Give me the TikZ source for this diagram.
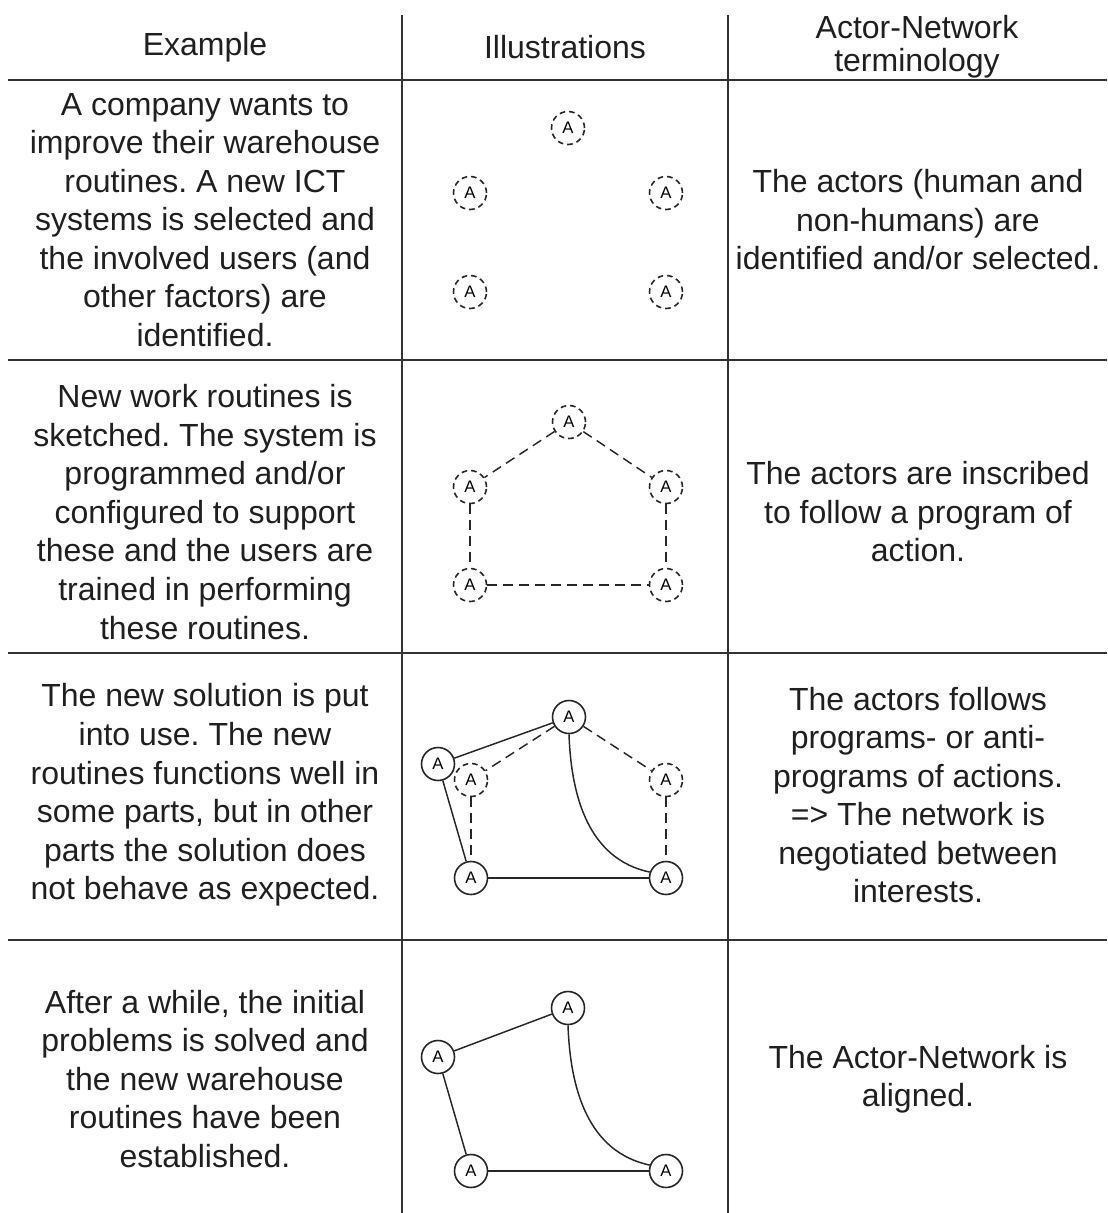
\documentclass[tikz,border=0pt]{standalone}
\usepackage{fontspec}
\setmainfont{Liberation Sans}
\frenchspacing
\begin{document}
\begin{tikzpicture}[x=0.75pt,y=-0.75pt,
  rule/.style={line width=1.5pt,draw=black!80},
  cell/.style={align=center,text=black!88,font=\fontsize{24}{28.9}\selectfont},
  head/.style={align=center,text=black!88,font=\fontsize{24}{24.8}\selectfont},
  actor/.style={circle,draw=black!85,line width=1.2pt,minimum size=24.75pt,inner sep=0pt,
    font=\fontsize{12.5}{14}\selectfont},
  ghost/.style={actor,dash pattern=on 4.2pt off 3pt},
  link/.style={line width=1.1pt,draw=black!85},
  tie/.style={link,dash pattern=on 7.5pt off 4.5pt}]
\useasboundingbox (0,0) rectangle (1107,1213);

% table rules
\draw[rule] (402,15) -- (402,1213);
\draw[rule] (728,15) -- (728,1213);
\foreach \yy in {80,360,653,940} \draw[rule] (8,\yy) -- (1107,\yy);

% header
\node[head] (hEx) at (205,47) {Example};
\node[head] (hIl) at (565,47) {Illustrations};
\node[head] (hAn) at (917,47) {Actor-Network\\terminology};

% row 1
\node[cell] (t1) at (205,220) {A company wants to\\improve their warehouse\\routines. A new ICT\\systems is selected and\\the involved users (and\\other factors) are\\identified.};
\node[cell] (u1) at (918,220) {The actors (human and\\non-humans) are\\identified and/or selected.};
\node[ghost] (a1t) at (568,128) {A};
\node[ghost] (a1l) at (470,193) {A};
\node[ghost] (a1r) at (666,193) {A};
\node[ghost] (a1bl) at (470,292) {A};
\node[ghost] (a1br) at (666,292) {A};

% row 2
\node[cell] (t2) at (205,512) {New work routines is\\sketched. The system is\\programmed and/or\\configured to support\\these and the users are\\trained in performing\\these routines.};
\node[cell] (u2) at (918,512) {The actors are inscribed\\to follow a program of\\action.};
\node[ghost] (a2t) at (569,422) {A};
\node[ghost] (a2l) at (470,487) {A};
\node[ghost] (a2r) at (666,487) {A};
\node[ghost] (a2bl) at (470,585) {A};
\node[ghost] (a2br) at (666,585) {A};
\draw[tie] (a2t) -- (a2l);
\draw[tie] (a2t) -- (a2r);
\draw[tie] (a2l) -- (a2bl);
\draw[tie] (a2r) -- (a2br);
\draw[tie] (a2bl) -- (a2br);

% row 3
\node[cell] (t3) at (205,795) {The new solution is put\\into use. The new\\routines functions well in\\some parts, but in other\\parts the solution does\\not behave as expected.};
\node[cell] (u3) at (918,795) {The actors follows\\programs- or anti-\\programs of actions.\\=> The network is\\negotiated between\\interests.};
\node[actor] (a3t) at (569,717) {A};
\node[actor] (a3l) at (438,764) {A};
\node[ghost] (a3gl) at (471,780) {A};
\node[ghost] (a3gr) at (666,780) {A};
\node[actor] (a3bl) at (471,878) {A};
\node[actor] (a3br) at (666,878) {A};
\draw[tie] (a3t) -- (a3gl);
\draw[tie] (a3t) -- (a3gr);
\draw[tie] (a3gl) -- (a3bl);
\draw[tie] (a3gr) -- (a3br);
\draw[link] (a3l) -- (a3t);
\draw[link] (a3l) -- (a3bl);
\draw[link] (a3bl) -- (a3br);
\draw[link] (a3t.south) to[out=-88,in=168] (a3br.160);

% row 4
\node[cell] (t4) at (205,1079) {After a while, the initial\\problems is solved and\\the new warehouse\\routines have been\\established.};
\node[cell] (u4) at (918,1079) {The Actor-Network is\\aligned.};
\node[actor] (a4t) at (568,1008) {A};
\node[actor] (a4l) at (438,1057) {A};
\node[actor] (a4bl) at (471,1171) {A};
\node[actor] (a4br) at (666,1171) {A};
\draw[link] (a4l) -- (a4t);
\draw[link] (a4l) -- (a4bl);
\draw[link] (a4bl) -- (a4br);
\draw[link] (a4t.south) to[out=-88,in=168] (a4br.160);
\end{tikzpicture}
\end{document}
